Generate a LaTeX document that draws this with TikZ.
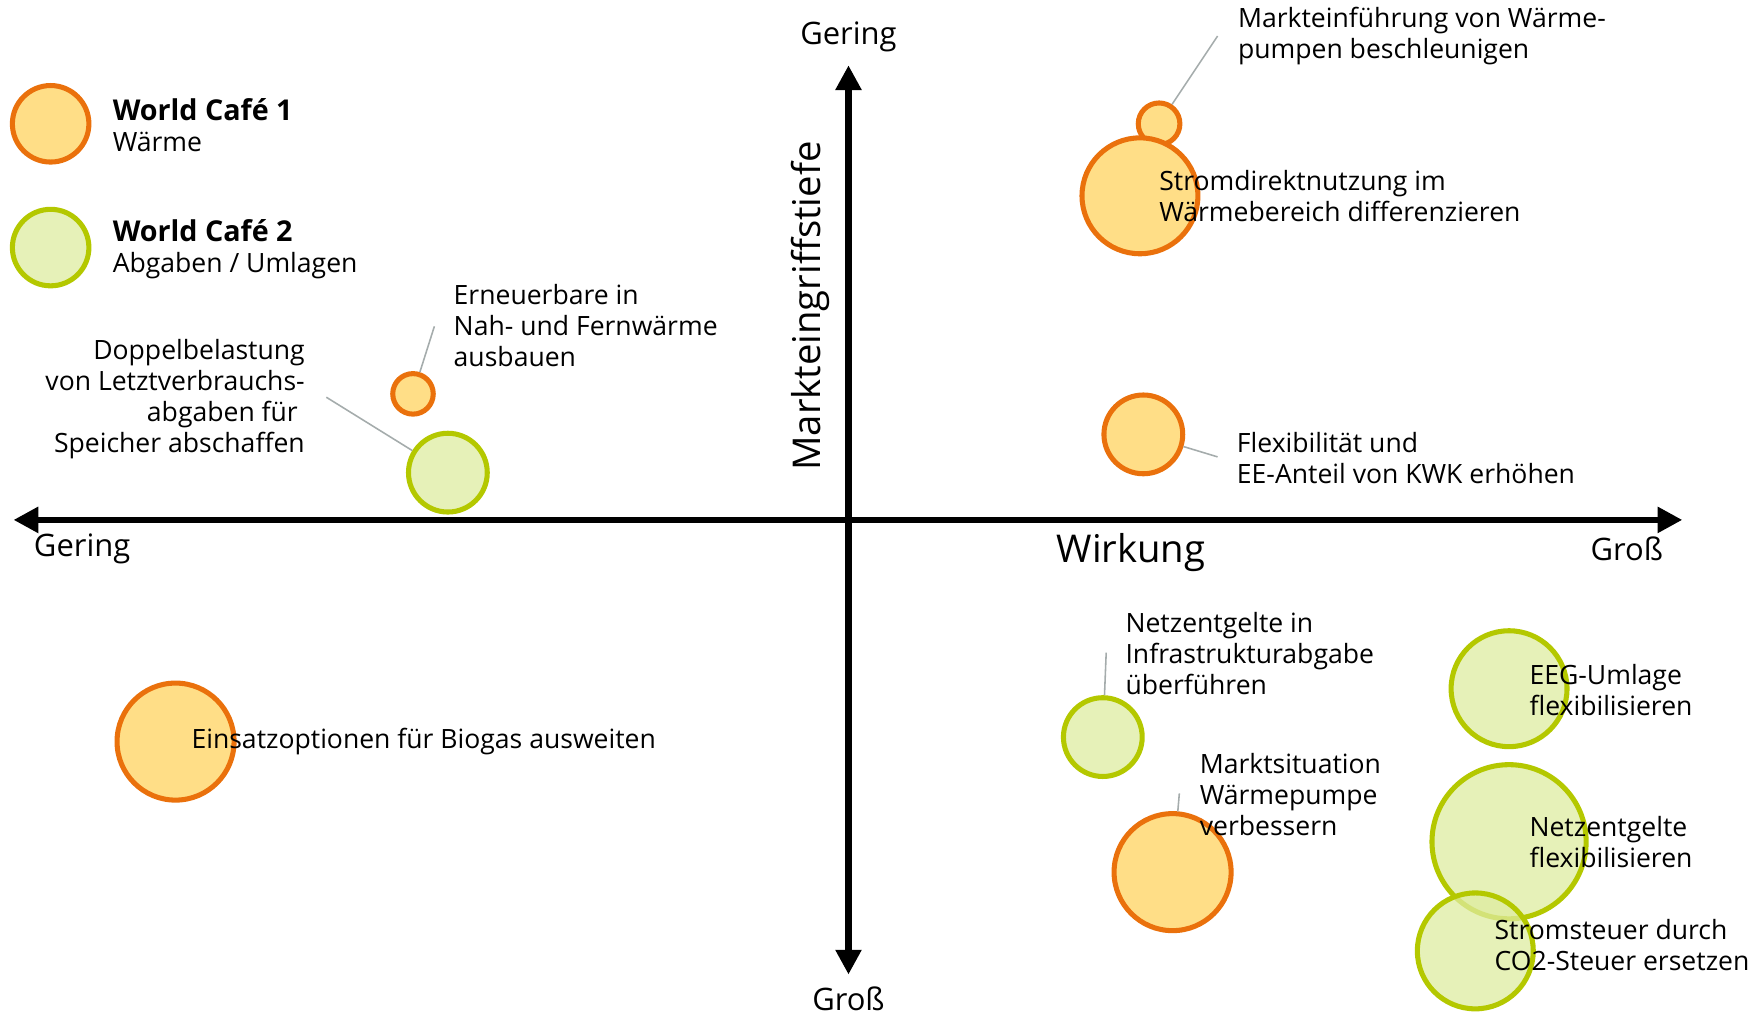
\documentclass[tikz,border=0pt]{standalone}
\usepackage{fontspec}
\setmainfont{Open Sans}
\usetikzlibrary{arrows.meta}

\definecolor{wcorange}{RGB}{234,113,12}
\definecolor{wcyellow}{RGB}{255,222,135}
\definecolor{wcgreen}{RGB}{180,200,0}
\definecolor{wclightgreen}{RGB}{222,236,160}
\definecolor{leadergray}{RGB}{165,172,172}

\tikzset{
	wcone/.style={circle, draw=wcorange, fill=wcyellow, line width=4.5pt, inner sep=0pt},
	wctwo/.style={circle, draw=wcgreen, fill=wclightgreen, fill opacity=0.75, line width=4.5pt, inner sep=0pt},
	note/.style={align=left, anchor=west, inner sep=0pt, font=\fontsize{23.6}{27.5}\selectfont},
	axislabel/.style={inner sep=0pt, font=\fontsize{27.5}{31}\selectfont},
	axistitle/.style={inner sep=0pt, font=\fontsize{34}{38}\selectfont},
	leader/.style={draw=leadergray, line width=1.4pt},
	axis/.style={line width=6pt, {Triangle[length=22pt,width=22pt]}-{Triangle[length=22pt,width=22pt]}}
}

\begin{document}
\begin{tikzpicture}[x=1pt, y=-1pt]

	\useasboundingbox (0,0) rectangle (1564,905.5);

	%axes: horizontal is Wirkung, vertical is Markteingriffstiefe
	\def\xaxis{462}
	\def\yaxis{754}

	\coordinate (west) at (12,\xaxis);
	\coordinate (east) at (1495,\xaxis);
	\coordinate (north) at (\yaxis,58);
	\coordinate (south) at (\yaxis,866);

	\draw [axis] (west) -- (east);
	\draw [axis] (south) -- (north);

	\node [axislabel] (topLabel) at (\yaxis,33) {Gering};
	\node [axislabel] (bottomLabel) at (\yaxis,888) {Groß};
	\node [axislabel, anchor=west] (leftLabel) at (30,488) {Gering};
	\node [axislabel, anchor=east] (rightLabel) at (1478,488) {Groß};
	\node [axistitle] (wirkung) at (1005,491) {Wirkung};
	\node [axistitle, rotate=90] (tiefe) at (720,272) {Markteingriffstiefe};

	%legend
	\node [wcone, minimum size=68pt] (legendOne) at (45,110) {};
	\node [wctwo, minimum size=68pt] (legendTwo) at (45,220) {};
	\node [note] (legendOneText) at (100,111.5) {{\fontsize{25.5}{27.5}\selectfont\textbf{World Café 1}}\\Wärme};
	\node [note] (legendTwoText) at (100,221.5) {{\fontsize{25.5}{27.5}\selectfont\textbf{World Café 2}}\\Abgaben / Umlagen};

	%orange circles (World Cafe 1) have names of the form o1, o2 ...
\foreach \name/\xpos/\ypos/\diam in {o1/1030/110/37, o2/1013/174/103, o3/1016/386/70, o4/367/350/36, o5/156/659/104, o6/1042/775/104}
   {
		\node [wcone, minimum size=\diam pt] (\name) at (\xpos,\ypos) {};
   }

	%green circles (World Cafe 2) have names of the form g1, g2 ...
\foreach \name/\xpos/\ypos/\diam in {g1/398/420/70, g2/980/655/70, g3/1341/612/103, g4/1341/748/137, g5/1311/845/103}
   {
		\node [wctwo, minimum size=\diam pt] (\name) at (\xpos,\ypos) {};
   }

	%texts
	\node [note] (o1Text) at (1100,32) {Markteinführung von Wärme-\\pumpen beschleunigen};
	\node [note] (o2Text) at (1030,174) {Stromdirektnutzung im\\Wärmebereich differenzieren};
	\node [note] (o3Text) at (1099,407) {Flexibilität und\\EE-Anteil von KWK erhöhen};
	\node [note] (o4Text) at (403,289) {Erneuerbare in\\Nah- und Fernwärme\\ausbauen};
	\node [note] (o5Text) at (170,659) {Einsatzoptionen für Biogas ausweiten};
	\node [note] (o6Text) at (1066,706) {Marktsituation\\Wärmepumpe\\verbessern};
	\node [note, align=right, anchor=east] (g1Text) at (271,355) {Doppelbelastung\\von Letztverbrauchs-\\abgaben für\phantom{ }\\Speicher abschaffen};
	\node [note] (g2Text) at (1000,581) {Netzentgelte in\\Infrastrukturabgabe\\überführen};
	\node [note] (g3Text) at (1359,613) {EEG-Umlage\\flexibilisieren};
	\node [note] (g4Text) at (1359,748) {Netzentgelte\\flexibilisieren};
	\node [note] (g5Text) at (1328,840) {Stromsteuer durch\\CO2-Steuer ersetzen};

	%leader lines
	\coordinate (o1Lead) at (1082,32);
	\coordinate (o3Lead) at (1082,406);
	\coordinate (o4Lead) at (386,290);
	\coordinate (o6Lead) at (1048,705);
	\coordinate (g1Lead) at (290,353);
	\coordinate (g2Lead) at (983,580);

	\draw [leader] (o1) -- (o1Lead);
	\draw [leader] (o3) -- (o3Lead);
	\draw [leader] (o4) -- (o4Lead);
	\draw [leader] (o6) -- (o6Lead);
	\draw [leader] (g1) -- (g1Lead);
	\draw [leader] (g2) -- (g2Lead);

\end{tikzpicture}
\end{document}
